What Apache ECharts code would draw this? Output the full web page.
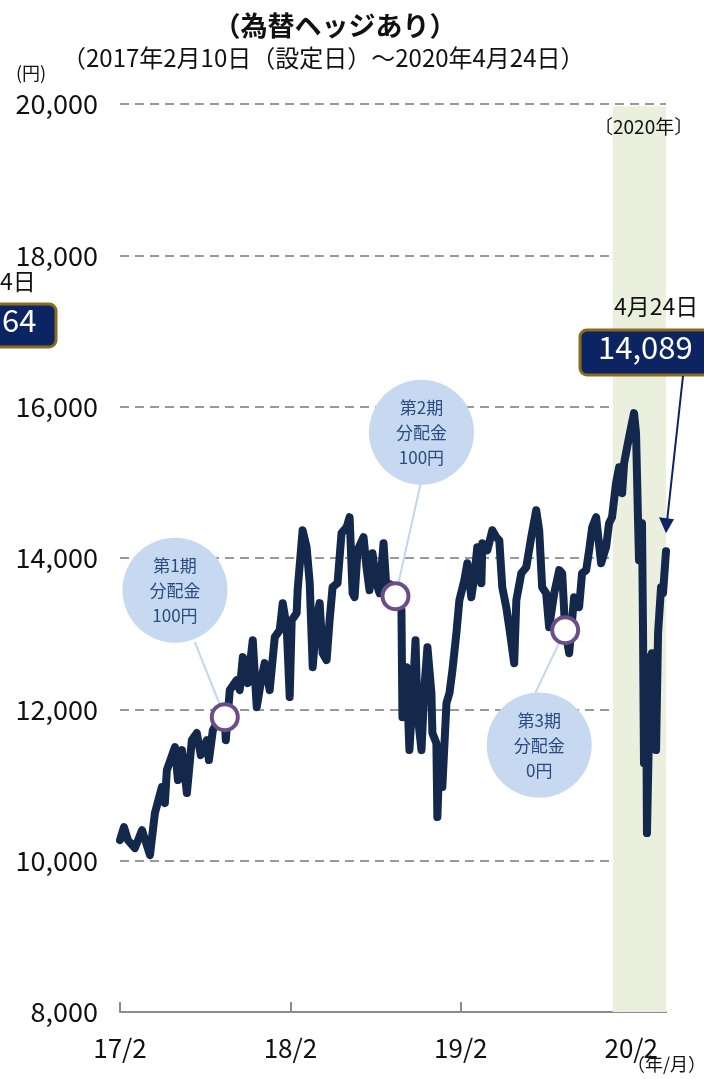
<!DOCTYPE html>
<html><head><meta charset="utf-8">
<script src="https://cdn.jsdelivr.net/npm/echarts@6/dist/echarts.min.js"></script>
<style>html,body{margin:0;padding:0;background:#fff;overflow:hidden}#c{width:704px;height:1079px}</style>
</head><body><div id="c"></div>
<script>
// months since 2017/2/10
const months = [0.00,0.28,0.56,1.05,1.55,2.11,2.46,2.95,3.16,3.30,3.87,4.08,4.36,4.71,5.06,5.41,5.69,6.12,6.26,6.54,6.82,7.38,7.45,7.73,8.22,8.43,8.65,9.00,9.35,9.63,9.98,10.19,10.54,10.90,11.25,11.46,11.74,11.95,12.09,12.44,12.51,12.86,13.14,13.36,13.57,13.85,14.06,14.27,14.55,14.76,14.97,15.32,15.60,15.96,16.17,16.38,16.52,16.73,17.15,17.36,17.57,17.78,18.06,18.28,18.56,18.77,19.05,19.40,19.82,19.89,20.17,20.38,20.60,20.81,20.95,21.23,21.44,21.65,21.93,22.00,22.28,22.35,22.49,22.70,22.99,23.20,23.41,23.69,23.90,24.25,24.46,24.74,24.95,25.16,25.45,25.52,25.87,26.22,26.50,26.71,26.92,27.20,27.41,27.76,27.91,28.26,28.61,28.96,29.31,29.52,29.73,30.01,30.22,30.58,30.93,31.14,31.35,31.63,31.98,32.33,32.54,32.83,33.04,33.25,33.53,33.88,34.23,34.44,34.65,34.93,35.15,35.36,35.50,35.71,35.99,36.20,36.34,36.48,36.55,36.76,36.83,36.90,37.04,37.11,37.25,37.46,37.61,37.75,37.89,38.10,38.24,38.45];
const values = [10272,10444,10272,10166,10404,10074,10629,10972,10761,11197,11501,11065,11461,10893,11593,11686,11395,11593,11329,11725,11818,11897,11593,12254,12386,12254,12690,12346,12914,12029,12425,12610,12254,12954,13046,13403,13086,12161,13178,13271,13575,14367,14143,13667,12557,13218,13403,12742,12650,13178,13614,13667,14328,14407,14539,13535,13482,14103,14275,13878,13575,14063,13667,13535,14196,13575,13650,13495,13311,11897,12557,11461,12121,12914,11950,11461,12293,12822,12214,11686,11553,10576,11329,10972,12082,12214,12518,13007,13442,13707,13931,13482,13746,14143,13667,14196,14103,14367,14275,14235,13614,13350,13086,12610,13442,13799,13878,14275,14632,14367,13614,13535,13086,13535,13839,13799,13046,12742,13482,13350,13799,13839,14103,14407,14539,13931,14143,14460,14539,14989,15200,14857,15253,15464,15729,15914,15649,14500,13971,14460,13086,11289,12690,10364,11686,12742,12121,11461,13007,13614,13535,14089];

const distMonths = [7.38, 19.40, 31.35];
const distValues = [11897, 13495, 13046];
const distLabels = ['第1期\n分配金\n100円', '第2期\n分配金\n100円', '第3期\n分配金\n0円'];
const bubbleMonths = [3.87, 21.23, 29.52];
const bubbleValues = [13575, 15662, 11527];
const connFromMonths = [5.27, 21.16, 29.24];
const connFromValues = [12889, 14975, 12214];

const xTickValues = [0, 12, 24, 36];
const xTickLabels = ['17/2', '18/2', '19/2', '20/2'];
const yMin = 8000, yMax = 20000, yStep = 2000;
const band2020 = [34.7, 38.45];

const latestLabel = '4月24日';
const latestValue = 14089;
const titleText = '（為替ヘッジあり）';
const subText = '（2017年2月10日（設定日）～2020年4月24日）';

const FONT = 'Noto Sans CJK JP';
const chart = echarts.init(document.getElementById('c'), null, {renderer: 'canvas'});

const option = {
  animation: false,
  backgroundColor: '#fff',
  grid: {left: 120, right: 38, top: 104, bottom: 67},
  xAxis: {
    type: 'value', min: 0, max: 38.45, interval: 12,
    axisLine: {show: true, lineStyle: {color: '#8c8c8c', width: 2}},
    axisTick: {show: true, inside: true, length: 10, customValues: xTickValues, lineStyle: {color: '#8c8c8c', width: 2}},
    axisLabel: {customValues: xTickValues, margin: 23, fontFamily: FONT, fontSize: 26, color: '#111',
      formatter: v => { const i = xTickValues.indexOf(v); return i >= 0 ? xTickLabels[i] : ''; }},
    splitLine: {show: false}
  },
  yAxis: {
    type: 'value', min: yMin, max: yMax, interval: yStep,
    axisLine: {show: false}, axisTick: {show: false},
    axisLabel: {margin: 22, fontFamily: FONT, fontSize: 27, color: '#111',
      formatter: v => v.toLocaleString('en-US')},
    splitLine: {show: true, lineStyle: {color: '#999', width: 2, type: [9, 6]}}
  },
  series: [
    {
      type: 'line', data: months.map((m, i) => [m, values[i]]),
      showSymbol: false, z: 3,
      lineStyle: {color: '#13284a', width: 8, join: 'round', cap: 'round'},
      markArea: {silent: true, itemStyle: {color: '#ebf0de'},
        data: [[{xAxis: band2020[0], yAxis: 19970}, {xAxis: band2020[1], yAxis: yMin}]]}
    },
    {
      type: 'lines', coordinateSystem: 'cartesian2d', z: 4, silent: true,
      lineStyle: {color: '#c3d6ee', width: 2, opacity: 1},
      data: distMonths.map((m, i) => ({coords: [[connFromMonths[i], connFromValues[i]], [m, distValues[i]]]}))
    },
    {
      type: 'scatter', z: 5, silent: true, symbol: 'circle', symbolSize: 105,
      itemStyle: {color: '#c6d9f0', opacity: 1},
      label: {show: true, position: 'inside', fontFamily: FONT, fontSize: 17, lineHeight: 25, color: '#2b4a80',
        formatter: p => distLabels[p.dataIndex]},
      data: bubbleMonths.map((m, i) => [m, bubbleValues[i]])
    },
    {
      type: 'scatter', z: 6, silent: true, symbol: 'circle', symbolSize: 26,
      itemStyle: {color: '#fff', borderColor: '#6a4e88', borderWidth: 4, opacity: 1},
      data: distMonths.map((m, i) => [m, distValues[i]])
    }
  ],
  graphic: []
};
chart.setOption(option);

const last = chart.convertToPixel({gridIndex: 0}, [months[months.length - 1], values[values.length - 1]]);
const tip = [last[0], last[1] - 18];
chart.setOption({graphic: [
  {type: 'text', z: 100, x: 335, y: 12, style: {text: titleText, font: 'bold 27px "' + FONT + '"', fill: '#111', textAlign: 'center'}},
  {type: 'text', z: 100, x: 62, y: 46, style: {text: subText, font: '24px "' + FONT + '"', fill: '#111'}},
  {type: 'text', z: 100, x: 16, y: 64, style: {text: '(円)', font: '18px "' + FONT + '"', fill: '#111'}},
  {type: 'text', z: 100, x: 594, y: 117, style: {text: '〔2020年〕', font: '19px "' + FONT + '"', fill: '#111'}},
  {type: 'text', z: 100, x: 614, y: 295, style: {text: latestLabel, font: '23px "' + FONT + '"', fill: '#111'}},
  {type: 'rect', z: 100, shape: {x: 580, y: 330, width: 140, height: 45, r: 7}, style: {fill: '#0c2461', stroke: '#8b6c1d', lineWidth: 3}},
  {type: 'text', z: 101, x: 598, y: 332, style: {text: latestValue.toLocaleString('en-US'), font: '31px "' + FONT + '"', fill: '#fff'}},
  {type: 'line', z: 100, shape: {x1: 683, y1: 376, x2: tip[0] + 1, y2: tip[1] - 12}, style: {stroke: '#0c2461', lineWidth: 2}},
  {type: 'polygon', z: 100, shape: {points: [[tip[0], tip[1]], [tip[0] - 7, tip[1] - 16], [tip[0] + 8, tip[1] - 14]]}, style: {fill: '#0c2461'}},
  {type: 'text', z: 100, x: 0, y: 270, style: {text: '4日', font: '23px "' + FONT + '"', fill: '#111'}},
  {type: 'rect', z: 100, shape: {x: -90, y: 304, width: 146, height: 43, r: 7}, style: {fill: '#0c2461', stroke: '#8b6c1d', lineWidth: 3}},
  {type: 'text', z: 101, x: 2, y: 305, style: {text: '64', font: '31px "' + FONT + '"', fill: '#fff'}},
  {type: 'text', z: 100, x: 627, y: 1055, style: {text: '（年/月）', font: '18px "' + FONT + '"', fill: '#111'}}
]});
</script></body></html>
